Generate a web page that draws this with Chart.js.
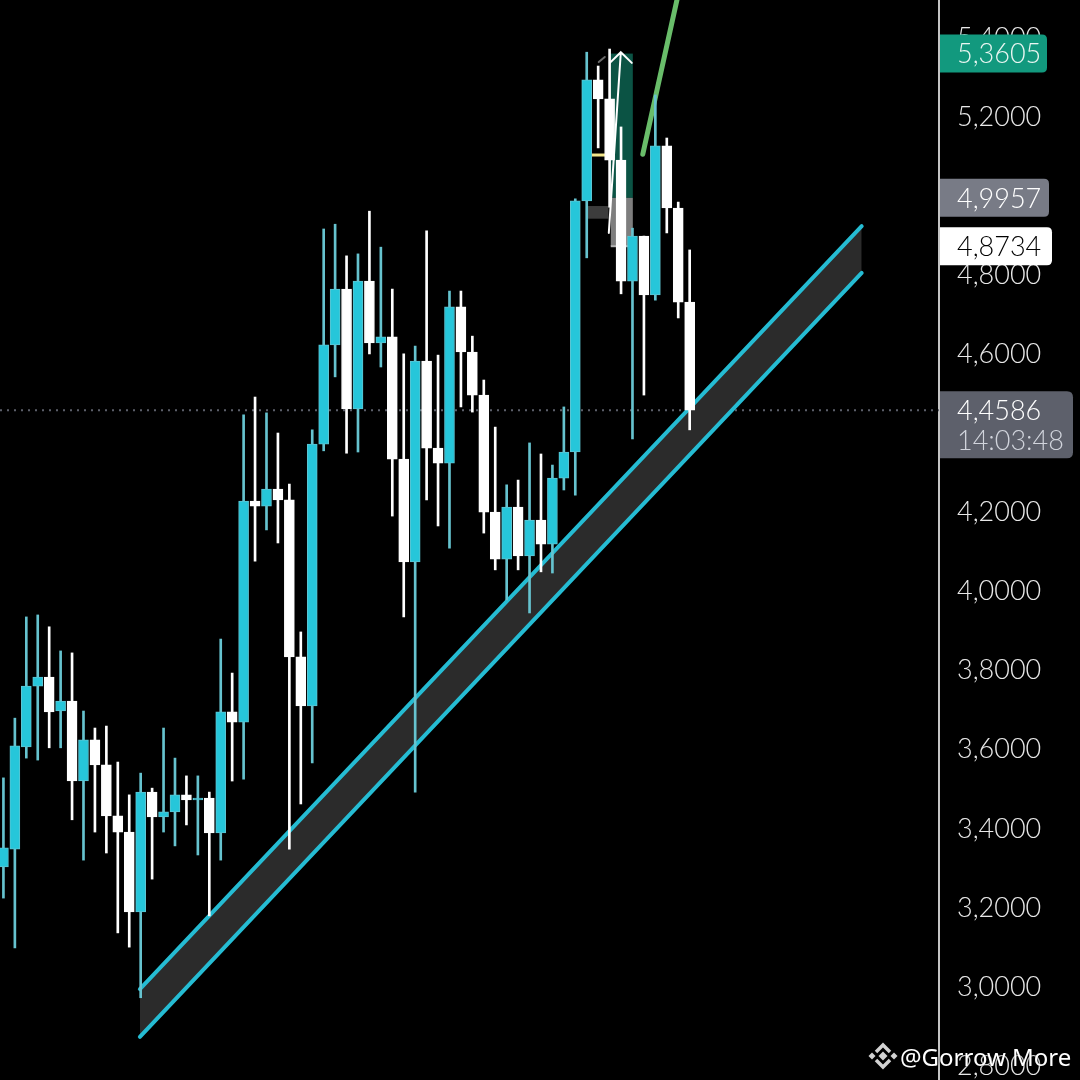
<!DOCTYPE html>
<html>
<head>
<meta charset="utf-8">
<script src="https://cdn.jsdelivr.net/npm/chart.js"></script>
<style>
  html, body { margin: 0; padding: 0; background: #000; }
  #app { width: 1080px; height: 1080px; position: relative; }
</style>
</head>
<body>
<div id="app">
  <canvas id="myChart"></canvas>
</div>
<script>
    // candles, oldest first
    const opens = [3.304,3.349,3.607,3.761,3.784,3.698,3.723,3.521,3.625,3.562,
        3.433,3.392,3.190,3.493,3.430,3.443,3.486,3.473,3.478,3.390,
        3.696,3.670,4.229,4.216,4.259,4.232,3.835,3.711,4.373,4.624,
        4.765,4.462,4.785,4.629,4.644,4.335,4.075,4.583,4.363,4.325,
        4.720,4.606,4.497,4.201,4.082,4.214,4.090,4.181,4.120,4.287,
        4.353,4.988,5.294,5.246,5.091,4.785,4.899,4.750,5.127,4.970,
        4.732];
    const highs = [3.529,3.680,3.936,3.941,3.911,3.850,3.845,3.698,3.655,3.660,
        3.569,3.486,3.541,3.503,3.655,3.579,3.534,3.534,3.493,3.880,
        3.794,4.447,4.492,4.452,4.401,4.272,3.898,4.409,4.917,4.929,
        4.849,4.854,4.962,4.871,4.765,4.601,4.621,4.912,4.598,4.760,
        4.760,4.646,4.535,4.416,4.270,4.282,4.376,4.348,4.320,4.467,
        4.993,5.364,5.329,5.372,5.175,4.919,4.899,5.256,5.147,4.985,
        4.864];
    const lows = [3.225,3.099,3.579,3.574,3.605,3.605,3.423,3.321,3.392,3.339,
        3.137,3.101,2.973,3.273,3.392,3.357,3.410,3.334,3.180,3.321,
        3.521,3.526,4.077,4.156,4.123,3.349,3.463,3.567,4.356,4.543,
        4.350,4.353,4.601,4.568,4.191,3.936,3.493,4.232,4.166,4.110,
        4.467,4.454,4.148,4.055,3.979,4.055,3.946,4.050,4.047,4.257,
        4.244,4.844,5.122,4.972,4.753,4.386,4.497,4.737,4.907,4.692,
        4.409];
    const closes = [3.352,3.610,3.761,3.784,3.696,3.723,3.521,3.625,3.562,3.433,
        3.392,3.190,3.493,3.430,3.443,3.486,3.473,3.478,3.390,3.696,
        3.670,4.229,4.216,4.259,4.232,3.835,3.711,4.373,4.624,4.765,
        4.462,4.785,4.629,4.644,4.335,4.075,4.583,4.363,4.325,4.720,
        4.606,4.497,4.201,4.082,4.214,4.090,4.181,4.120,4.287,4.353,
        4.988,5.294,5.246,5.091,4.785,4.899,4.750,5.127,4.970,4.732,
        4.4586];

    const tickValues = [2.8, 3.0, 3.2, 3.4, 3.6, 3.8, 4.0, 4.2, 4.4, 4.6, 4.8, 5.0, 5.2, 5.4];

    // drawings (candle index, price)
    const channelX = [11.93, 75.04];
    const channelUpper = [2.995, 4.924];
    const channelLower = [2.874, 4.806];
    const greenX = [55.9, 59.3];
    const greenY = [5.106, 5.55];
    const boxX = [53.1, 55.03];
    const boxPrices = [5.3605, 4.9957, 4.8734];   // target, entry, stop
    const lastPrice = 4.4586;
    const countdown = '14:03:48';

    const upFill = '#26c6da';
    const upWick = '#66c3cf';

    const isUp = closes.map((c, i) => c >= opens[i]);
    const fmt = v => v.toFixed(4).replace('.', ',');

    const wickData = highs.map((h, i) => ({ x: i, y: [lows[i], h] }));
    const bodyData = opens.map((o, i) => ({ x: i, y: [o, closes[i]] }));

    function roundRight(ctx, x, y, w, h, r) {
        ctx.beginPath();
        ctx.moveTo(x, y);
        ctx.lineTo(x + w - r, y);
        ctx.quadraticCurveTo(x + w, y, x + w, y + r);
        ctx.lineTo(x + w, y + h - r);
        ctx.quadraticCurveTo(x + w, y + h, x + w - r, y + h);
        ctx.lineTo(x, y + h);
        ctx.closePath();
    }

    const overlay = {
        id: 'overlay',
        beforeDatasetsDraw(chart) {
            const { ctx, chartArea: { left, right }, scales: { x, y } } = chart;
            ctx.save();
            // last price dotted line
            const py = y.getPixelForValue(lastPrice);
            ctx.strokeStyle = '#5d606b';
            ctx.lineWidth = 2;
            ctx.setLineDash([2, 5]);
            ctx.beginPath();
            ctx.moveTo(left, py);
            ctx.lineTo(right, py);
            ctx.stroke();
            ctx.setLineDash([]);

            // long position box
            const x0 = x.getPixelForValue(boxX[0]);
            const x1 = x.getPixelForValue(boxX[1]);
            const yT = y.getPixelForValue(boxPrices[0]);
            const yE = y.getPixelForValue(boxPrices[1]);
            const yS = y.getPixelForValue(boxPrices[2]);
            ctx.fillStyle = '#0b5344';
            ctx.fillRect(x0, yT, x1 - x0, yE - yT);
            ctx.fillStyle = '#7e7e7e';
            ctx.fillRect(x0, yE, x1 - x0, yS - yE);
            ctx.strokeStyle = '#b4b4b4';
            ctx.lineWidth = 2;
            ctx.beginPath();
            ctx.moveTo(x0, yS);
            ctx.lineTo(x1, yS);
            ctx.stroke();

            // small grey block + yellow mark left of the box
            ctx.fillStyle = '#3c3c3c';
            const gx0 = x.getPixelForValue(51.1), gx1 = x.getPixelForValue(52.9);
            const gy0 = y.getPixelForValue(4.975), gy1 = y.getPixelForValue(4.943);
            ctx.fillRect(gx0, gy0, gx1 - gx0, gy1 - gy0);
            ctx.strokeStyle = '#f2e68a';
            ctx.lineWidth = 3;
            ctx.beginPath();
            ctx.moveTo(x.getPixelForValue(51.4), y.getPixelForValue(5.104));
            ctx.lineTo(x.getPixelForValue(52.6), y.getPixelForValue(5.104));
            ctx.stroke();
            ctx.restore();
        },
        afterDatasetsDraw(chart) {
            const { ctx, scales: { x, y } } = chart;
            ctx.save();
            ctx.strokeStyle = '#ffffff';
            ctx.lineWidth = 2;
            ctx.lineCap = 'round';
            ctx.beginPath();
            ctx.moveTo(x.getPixelForValue(52.93), y.getPixelForValue(4.907));
            ctx.lineTo(x.getPixelForValue(53.98), y.getPixelForValue(5.364));
            ctx.moveTo(x.getPixelForValue(53.02), y.getPixelForValue(5.337));
            ctx.lineTo(x.getPixelForValue(53.98), y.getPixelForValue(5.364));
            ctx.lineTo(x.getPixelForValue(54.94), y.getPixelForValue(5.337));
            ctx.stroke();
            ctx.strokeStyle = '#6a6a6a';
            ctx.beginPath();
            ctx.moveTo(x.getPixelForValue(52.05), y.getPixelForValue(5.339));
            ctx.lineTo(x.getPixelForValue(52.58), y.getPixelForValue(5.352));
            ctx.stroke();
            ctx.restore();
        },
        afterDraw(chart) {
            const { ctx, chartArea: { right }, scales: { y } } = chart;
            ctx.save();
            const tags = [
                { v: boxPrices[0], bg: '#12997e', fg: '#eaf6f2', w: 107 },
                { v: boxPrices[1], bg: '#787b86', fg: '#ffffff', w: 109 },
                { v: boxPrices[2], bg: '#ffffff', fg: '#000000', w: 112 }
            ];
            ctx.font = '300 27px Lato';
            ctx.textBaseline = 'middle';
            ctx.textAlign = 'left';
            tags.forEach(t => {
                const cy = y.getPixelForValue(t.v);
                ctx.fillStyle = t.bg;
                roundRight(ctx, right + 1, cy - 19, t.w, 38, 5);
                ctx.fill();
                ctx.fillStyle = t.fg;
                ctx.fillText(fmt(t.v), right + 18, cy + 1);
            });
            // last price tag with countdown
            const ly = y.getPixelForValue(lastPrice);
            ctx.fillStyle = '#5d606b';
            roundRight(ctx, right + 1, ly - 19, 133, 67, 6);
            ctx.fill();
            ctx.fillStyle = '#ffffff';
            ctx.fillText(fmt(lastPrice), right + 18, ly + 1);
            ctx.fillStyle = '#d1d4dc';
            ctx.fillText(countdown, right + 18, ly + 31);

            // watermark
            const cx = 883, cy = 1056;
            ctx.fillStyle = '#d2d2d2';
            ctx.strokeStyle = '#d2d2d2';
            const diamond = (dx, dy, r) => {
                ctx.beginPath();
                ctx.moveTo(dx, dy - r);
                ctx.lineTo(dx + r, dy);
                ctx.lineTo(dx, dy + r);
                ctx.lineTo(dx - r, dy);
                ctx.closePath();
                ctx.fill();
            };
            diamond(cx, cy, 4.5);
            diamond(cx - 11, cy, 3.5);
            diamond(cx + 11, cy, 3.5);
            ctx.lineWidth = 3.5;
            ctx.beginPath();
            ctx.moveTo(cx - 7, cy - 4);
            ctx.lineTo(cx, cy - 11);
            ctx.lineTo(cx + 7, cy - 4);
            ctx.moveTo(cx - 7, cy + 4);
            ctx.lineTo(cx, cy + 11);
            ctx.lineTo(cx + 7, cy + 4);
            ctx.stroke();
            ctx.shadowColor = 'rgba(0,0,0,0.7)';
            ctx.shadowBlur = 3;
            ctx.fillStyle = '#ffffff';
            let size = 26;
            ctx.font = size + 'px "Noto Sans"';
            while (ctx.measureText('@Gorrow More').width > 172 && size > 18) {
                size -= 0.5;
                ctx.font = size + 'px "Noto Sans"';
            }
            ctx.textBaseline = 'alphabetic';
            ctx.fillText('@Gorrow More', 900, 1066);
            ctx.restore();
        }
    };

    const config = {
        type: 'bar',
        data: {
            datasets: [
                {
                    type: 'line',
                    data: channelX.map((v, i) => ({ x: v, y: channelUpper[i] })),
                    borderColor: '#25bcd3',
                    borderWidth: 4,
                    borderCapStyle: 'round',
                    pointRadius: 0,
                    fill: false,
                    order: 5
                },
                {
                    type: 'line',
                    data: channelX.map((v, i) => ({ x: v, y: channelLower[i] })),
                    borderColor: '#25bcd3',
                    borderWidth: 4,
                    borderCapStyle: 'round',
                    pointRadius: 0,
                    fill: '-1',
                    backgroundColor: '#2b2b2b',
                    order: 5
                },
                {
                    type: 'line',
                    data: greenX.map((v, i) => ({ x: v, y: greenY[i] })),
                    borderColor: '#69bd6a',
                    borderWidth: 5,
                    borderCapStyle: 'round',
                    pointRadius: 0,
                    fill: false,
                    order: 4
                },
                {
                    label: 'wick',
                    data: wickData,
                    backgroundColor: isUp.map(u => u ? upWick : '#ffffff'),
                    borderWidth: 0,
                    barThickness: 2,
                    grouped: false,
                    order: 2
                },
                {
                    label: 'body',
                    data: bodyData,
                    backgroundColor: isUp.map(u => u ? upFill : '#ffffff'),
                    borderColor: isUp.map(u => u ? '#5ec5d3' : '#ffffff'),
                    borderWidth: 1,
                    borderSkipped: false,
                    barThickness: 10,
                    minBarLength: 2,
                    grouped: false,
                    order: 1
                }
            ]
        },
        options: {
            responsive: true,
            maintainAspectRatio: false,
            animation: false,
            layout: { padding: 0 },
            plugins: {
                legend: { display: false },
                tooltip: { enabled: false }
            },
            scales: {
                x: {
                    type: 'linear',
                    offset: false,
                    min: -0.3,
                    max: 81.8,
                    display: false
                },
                y: {
                    position: 'right',
                    min: 2.765,
                    max: 5.496,
                    afterFit(scale) {
                        scale.width = 141;
                        scale.paddingTop = 0;
                        scale.paddingBottom = 0;
                    },
                    afterBuildTicks(scale) { scale.ticks = tickValues.map(v => ({ value: v })); },
                    grid: { display: false, drawTicks: false },
                    border: { display: true, color: '#c4c4c4', width: 2 },
                    ticks: {
                        padding: 18,
                        autoSkip: false,
                        color: '#e8e8e8',
                        font: { family: 'Lato', size: 27, weight: 300 },
                        callback: v => fmt(v)
                    }
                }
            }
        },
        plugins: [overlay]
    };

    const myChart = new Chart(document.getElementById('myChart'), config);
</script>
</body>
</html>
